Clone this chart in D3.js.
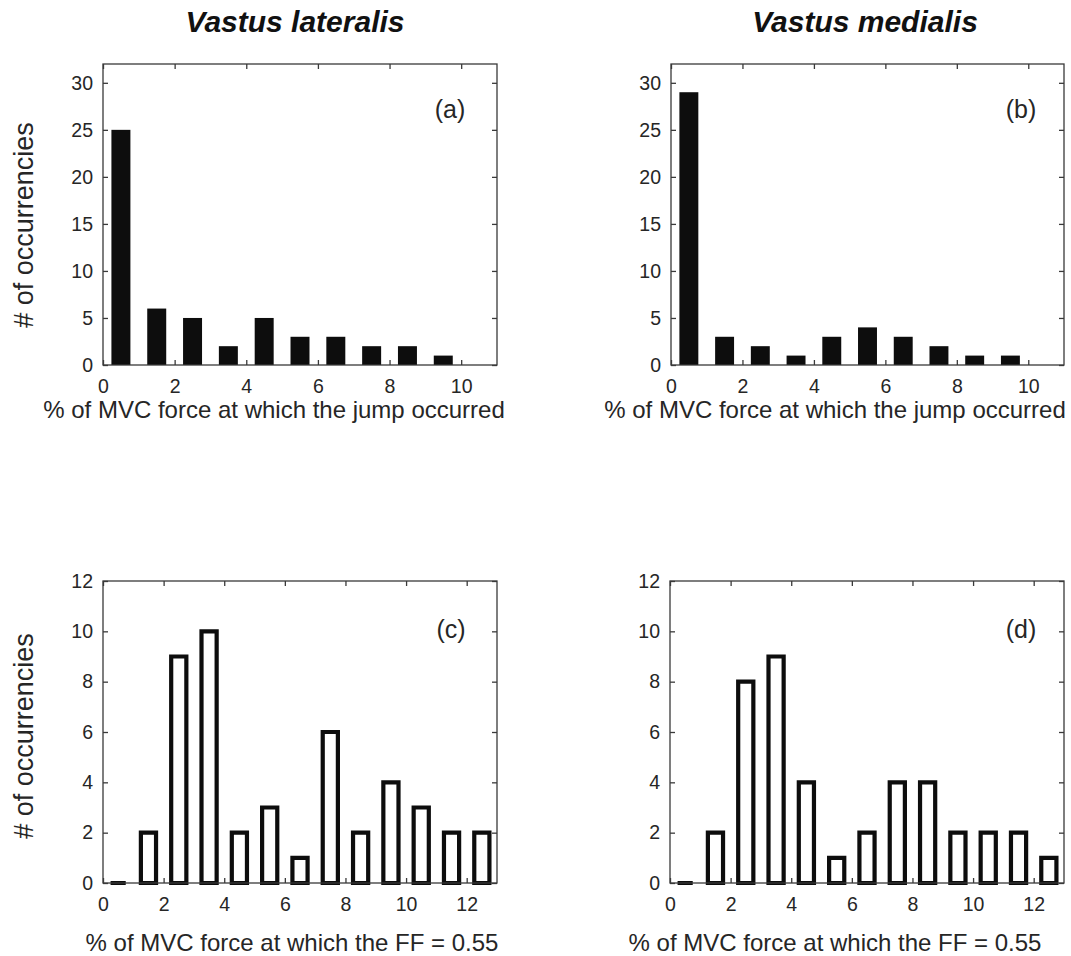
<!DOCTYPE html>
<html>
<head>
<meta charset="utf-8">
<script src="https://cdn.jsdelivr.net/npm/d3@7"></script>
<style>
  html, body { margin: 0; padding: 0; background: #fff; }
  svg text { font-family: "Liberation Sans", Arial, sans-serif; }
</style>
</head>
<body>
<svg id="chart" width="1071" height="956"></svg>
<script>
// ---- Data ----
const centersJump = [0.5, 1.5, 2.5, 3.5, 4.5, 5.5, 6.5, 7.5, 8.5, 9.5];
const vlJump = [25, 6, 5, 2, 5, 3, 3, 2, 2, 1];
const vmJump = [29, 3, 2, 1, 3, 4, 3, 2, 1, 1];
const centersFF = [0.5, 1.5, 2.5, 3.5, 4.5, 5.5, 6.5, 7.5, 8.5, 9.5, 10.5, 11.5, 12.5];
const vlFF = [0, 2, 9, 10, 2, 3, 1, 6, 2, 4, 3, 2, 2];
const vmFF = [0, 2, 8, 9, 4, 1, 2, 4, 4, 2, 2, 2, 1];
const xTicksJump = [0, 2, 4, 6, 8, 10];
const yTicksJump = [0, 5, 10, 15, 20, 25, 30];
const xTicksFF = [0, 2, 4, 6, 8, 10, 12];
const yTicksFF = [0, 2, 4, 6, 8, 10, 12];
const titles = ["Vastus lateralis", "Vastus medialis"];
const panelLabels = ["(a)", "(b)", "(c)", "(d)"];
const xLabelJump = "% of MVC force at which the jump occurred";
const xLabelFF = "% of MVC force at which the FF = 0.55";
const yLabel = "# of occurrencies";

const svg = d3.select("#chart");
const ink = "#262626";

const panels = [
  {l:103, r:497, t:64, b:365, cx:centersJump, vals:vlJump, xmax:11, ymax:32, xt:xTicksJump, yt:yTicksJump, filled:true, bw:0.53, lab:panelLabels[0], lx:450, ly:118, xl:xLabelJump, xlx:274, xly:418},
  {l:671, r:1064, t:64, b:365, cx:centersJump, vals:vmJump, xmax:11, ymax:32, xt:xTicksJump, yt:yTicksJump, filled:true, bw:0.53, lab:panelLabels[1], lx:1021, ly:118, xl:xLabelJump, xlx:835, xly:418},
  {l:103, r:497, t:581, b:883, cx:centersFF, vals:vlFF, xmax:13, ymax:12, xt:xTicksFF, yt:yTicksFF, filled:false, bw:0.5, lab:panelLabels[2], lx:451, ly:638, xl:xLabelFF, xlx:292, xly:951},
  {l:670, r:1064, t:581, b:883, cx:centersFF, vals:vmFF, xmax:13, ymax:12, xt:xTicksFF, yt:yTicksFF, filled:false, bw:0.5, lab:panelLabels[3], lx:1021, ly:638, xl:xLabelFF, xlx:835, xly:951}
];

panels.forEach(p => {
  const x = d3.scaleLinear().domain([0, p.xmax]).range([p.l, p.r]);
  const y = d3.scaleLinear().domain([0, p.ymax]).range([p.b, p.t]);
  const g = svg.append("g");

  // bars
  const data = p.cx.map((c, i) => ({c, v: p.vals[i]}));
  if (p.filled) {
    g.selectAll("rect.bar").data(data).enter().append("rect")
      .attr("class", "bar")
      .attr("x", d => x(d.c - p.bw/2))
      .attr("width", d => x(d.c + p.bw/2) - x(d.c - p.bw/2))
      .attr("y", d => y(d.v))
      .attr("height", d => y(0) - y(d.v))
      .attr("fill", "#0d0d0d");
  } else {
    g.selectAll("path.bar").data(data).enter().append("path")
      .attr("class", "bar")
      .attr("d", d => {
        const x0 = x(d.c - p.bw/2), x1 = x(d.c + p.bw/2), y0 = y(0), y1 = y(d.v);
        return `M${x0},${y0}V${y1}H${x1}V${y0}Z`;
      })
      .attr("fill", "#fff")
      .attr("stroke", "#0d0d0d")
      .attr("stroke-width", 4.2)
      .attr("stroke-linejoin", "miter");
  }

  // frame
  g.append("rect")
    .attr("x", p.l).attr("y", p.t)
    .attr("width", p.r - p.l).attr("height", p.b - p.t)
    .attr("fill", "none").attr("stroke", "#3a3a3a").attr("stroke-width", 1.3);

  const styleAxis = sel => {
    sel.select(".domain").remove();
    sel.selectAll(".tick line").attr("stroke", "#3a3a3a").attr("stroke-width", 1.3);
    sel.selectAll(".tick text").attr("fill", ink).style("font-size", "19.5px")
      .style("font-family", "'Liberation Sans', Arial, sans-serif");
  };

  g.append("g").attr("transform", `translate(0,${p.b})`)
    .call(d3.axisBottom(x).tickValues(p.xt).tickSize(-5).tickPadding(14).tickFormat(d3.format("d")))
    .call(styleAxis);
  g.append("g").attr("transform", `translate(0,${p.t})`)
    .call(d3.axisTop(x).tickValues(p.xt).tickSize(-5).tickFormat(""))
    .call(styleAxis);
  g.append("g").attr("transform", `translate(${p.l},0)`)
    .call(d3.axisLeft(y).tickValues(p.yt).tickSize(-5).tickPadding(10).tickFormat(d3.format("d")))
    .call(styleAxis);
  g.append("g").attr("transform", `translate(${p.r},0)`)
    .call(d3.axisRight(y).tickValues(p.yt).tickSize(-5).tickFormat(""))
    .call(styleAxis);

  // panel label
  g.append("text").attr("x", p.lx).attr("y", p.ly)
    .attr("text-anchor", "middle").attr("fill", ink)
    .style("font-size", "25px").text(p.lab);

  // x label
  g.append("text").attr("x", p.xlx).attr("y", p.xly)
    .attr("text-anchor", "middle").attr("fill", ink)
    .style("font-size", "24px").text(p.xl);
});

// column titles
[[295, titles[0]], [865, titles[1]]].forEach(([cx, t]) => {
  svg.append("text").attr("x", cx).attr("y", 32)
    .attr("text-anchor", "middle").attr("fill", "#111")
    .style("font-size", "30px").style("font-weight", "bold").style("font-style", "italic")
    .text(t);
});

// y labels
[225, 736].forEach(cy => {
  svg.append("text")
    .attr("transform", `translate(33,${cy}) rotate(-90)`)
    .attr("text-anchor", "middle").attr("fill", ink)
    .style("font-size", "27px").text(yLabel);
});
</script>
</body>
</html>
